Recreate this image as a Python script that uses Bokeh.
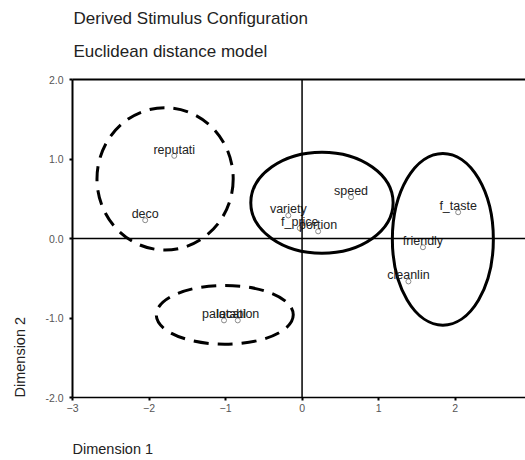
from bokeh.plotting import figure
from bokeh.models import Range1d, Span, LinearAxis, FixedTicker, ColumnDataSource, Title
from bokeh.core.properties import value
from bokeh.embed import file_html
from bokeh.resources import INLINE

# ---- data ----
stimuli = ["reputati", "deco", "variety", "f_price", "portion", "speed",
           "f_taste", "friendly", "cleanlin", "palatabl", "location"]
dim1 = [-1.67, -2.05, -0.18, -0.03, 0.21, 0.64, 2.04, 1.58, 1.39, -1.02, -0.84]
dim2 = [1.04, 0.23, 0.29, 0.13, 0.09, 0.52, 0.33, -0.11, -0.54, -1.03, -1.03]

x_ticks = [-3, -2, -1, 0, 1, 2]
y_ticks = [-2, -1, 0, 1, 2]
y_tick_labels = ["-2.0", "-1.0", "0.0", "1.0", "2.0"]

# group outlines (dashed / solid)
dashed_cx = [-1.79, -1.01]
dashed_cy = [0.75, -0.96]
dashed_w = [1.78, 1.79]
dashed_h = [1.79, 0.74]
solid_cx = [0.26, 1.84]
solid_cy = [0.45, -0.01]
solid_w = [1.86, 1.32]
solid_h = [1.27, 2.16]

FONT = "Liberation Sans"

p = figure(width=525, height=460, output_backend="svg", toolbar_location=None,
           x_range=Range1d(-3, 2.92), y_range=Range1d(-2, 2),
           min_border_left=72, min_border_top=79, min_border_bottom=63,
           min_border_right=0, x_axis_type=None, y_axis_type=None)
p.outline_line_color = None
p.grid.visible = False
p.background_fill_color = "white"

xa = LinearAxis(ticker=FixedTicker(ticks=x_ticks))
xa.axis_line_width = 1.5
xa.major_tick_out = 3
xa.major_tick_in = 0
xa.major_tick_line_width = 2
xa.minor_tick_line_color = None
xa.major_label_text_font = FONT
xa.major_label_text_font_size = "10.5px"
xa.major_label_text_color = "#555555"
xa.major_label_standoff = 3
p.add_layout(xa, "below")

ya = LinearAxis(ticker=FixedTicker(ticks=y_ticks))
ya.major_label_overrides = {t: l for t, l in zip(y_ticks, y_tick_labels)}
ya.axis_line_width = 2
ya.major_tick_out = 3
ya.major_tick_in = 0
ya.major_tick_line_width = 2
ya.minor_tick_line_color = None
ya.major_label_text_font = FONT
ya.major_label_text_font_size = "10.5px"
ya.major_label_text_color = "#555555"
ya.major_label_standoff = 6
p.add_layout(ya, "left")

top = LinearAxis(ticker=FixedTicker(ticks=[]))
top.axis_line_width = 2
top.major_label_text_font_size = "0px"
top.major_label_standoff = 0
top.major_tick_out = 0
top.major_tick_line_color = None
top.minor_tick_line_color = None
p.add_layout(top, "above")

p.add_layout(Span(location=0, dimension="width", line_color="black", line_width=1.5))
p.add_layout(Span(location=0, dimension="height", line_color="black", line_width=1.5))

p.ellipse(x=dashed_cx, y=dashed_cy, width=dashed_w, height=dashed_h,
          fill_color=None, line_color="black", line_width=3, line_dash="15 9")
p.ellipse(x=solid_cx, y=solid_cy, width=solid_w, height=solid_h,
          fill_color=None, line_color="black", line_width=3)

src = ColumnDataSource(dict(x=dim1, y=dim2, name=stimuli))
p.scatter("x", "y", source=src, size=5, marker="circle", fill_color=None,
          line_color="#8a8a8a", line_width=1)
p.text("x", "y", text="name", source=src, text_align="center",
       text_baseline="alphabetic", y_offset=-6, text_font=value(FONT),
       text_font_size="12.5px", text_color="#222222")

def ttl(txt, where, offset, standoff, size):
    t = Title(text=txt, align="left", offset=offset, standoff=standoff,
              text_font=FONT, text_font_size=size, text_font_style="normal",
              text_color="#222222")
    p.add_layout(t, where)

ttl(" ", "above", 0, 7, "1px")
ttl("Euclidean distance model", "above", 1, 17, "17px")
ttl("Derived Stimulus Configuration", "above", 1, 8, "17px")
ttl(" ", "below", 0, 20, "1px")
ttl("Dimension 1", "below", 0, 2, "14.5px")
ttl(" ", "left", 0, 10, "1px")
ttl("Dimension 2", "left", 0, 4, "14.5px")

open("out.html", "w").write(file_html(p, INLINE))
